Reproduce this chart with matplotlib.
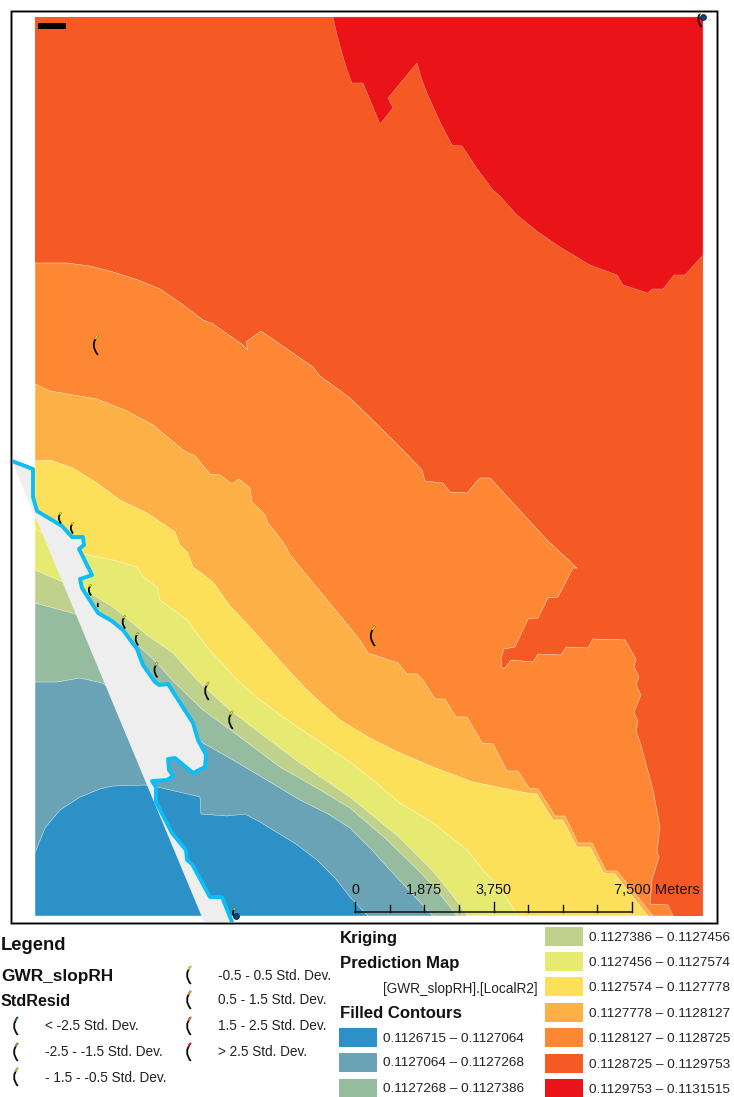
import matplotlib
matplotlib.use('Agg')
import matplotlib.pyplot as plt
from matplotlib.patches import Polygon, Rectangle, PathPatch
from matplotlib.path import Path

plt.rcParams['font.family'] = ['Liberation Sans', 'DejaVu Sans']

# contour classes, low to high
class_labels = ['0.1126715 – 0.1127064', '0.1127064 – 0.1127268', '0.1127268 – 0.1127386',
                '0.1127386 – 0.1127456', '0.1127456 – 0.1127574', '0.1127574 – 0.1127778',
                '0.1127778 – 0.1128127', '0.1128127 – 0.1128725', '0.1128725 – 0.1129753',
                '0.1129753 – 0.1131515']
class_colors = ['#2B91C6', '#69A3B5', '#96BC9F', '#C0D18B', '#E6EA70',
                '#FDE05A', '#FDB045', '#FD8733', '#F55A24', '#E91318']

# map extent (picture pixels are the map units here)
map_left, map_top, map_right, map_bottom = 35, 17, 703, 916

# upper limit line of each class, left edge to bottom edge of the map
blue_top = [(35, 853), (45, 828), (60, 810), (80, 797), (100, 789), (113, 786), (145, 785), (158, 787),
            (200, 797), (201, 814), (227, 816), (245, 814), (260, 822), (273, 830), (296, 844), (317, 860),
            (335, 878), (350, 897), (368, 916)]
teal_top = [(35, 682), (57, 682), (80, 678), (102, 683), (130, 700), (190, 735), (203, 743), (233, 760),
            (265, 779), (300, 800), (328, 814), (350, 828), (372, 850), (390, 870), (415, 897), (433, 916)]
sage_top = [(35, 603), (72, 613), (100, 622), (140, 647), (157, 663), (172, 680), (203, 710), (240, 737),
            (280, 767), (315, 787), (350, 808), (385, 838), (418, 870), (437, 890), (457, 916)]
olive_top = [(35, 570), (58, 580), (90, 593), (113, 607), (147, 635), (173, 653), (197, 680), (230, 710),
             (260, 733), (300, 763), (350, 797), (400, 838), (432, 870), (450, 892), (468, 916)]
yellowgreen_top = [(35, 528), (60, 545), (83, 554), (113, 560), (137, 567), (143, 577), (157, 587),
                   (160, 600), (187, 620), (207, 647), (237, 680), (260, 700), (283, 717), (317, 740),
                   (350, 762), (375, 782), (400, 803), (433, 823), (467, 850), (483, 870), (500, 888),
                   (518, 916)]
yellow_top = [(35, 461), (50, 460), (73, 468), (97, 483), (120, 500), (147, 513), (175, 532), (180, 545),
              (188, 553), (193, 567), (213, 582), (230, 606), (250, 627), (282, 663), (307, 690),
              (340, 720), (370, 738), (400, 753), (433, 767), (473, 782), (527, 793), (537, 794),
              (553, 820), (563, 820), (577, 847), (590, 847), (604, 873), (615, 874), (648, 916)]
lightorange_top = [(35, 384), (50, 391), (97, 399), (125, 410), (153, 425), (183, 450), (195, 456), (210, 474),
                   (220, 475), (232, 484), (239, 479), (250, 488), (252, 502), (265, 515), (268, 523),
                   (285, 545), (290, 555), (337, 612), (360, 640), (368, 653), (398, 663), (407, 674),
                   (417, 674), (423, 680), (435, 699), (445, 699), (456, 717), (467, 717), (482, 743),
                   (493, 744), (507, 771), (518, 771), (529, 788), (538, 789), (555, 816), (565, 816),
                   (578, 843), (592, 843), (606, 871), (617, 871), (653, 916)]
orange_top = [(35, 263), (67, 263), (90, 266), (113, 272), (138, 280), (160, 289), (182, 304), (203, 320),
              (213, 324), (243, 345), (248, 350), (246, 342), (261, 331), (313, 367), (320, 376), (350, 398),
              (393, 440), (422, 470), (425, 481), (443, 483), (450, 492), (467, 493), (480, 478), (490, 478),
              (547, 540), (577, 568), (573, 568), (558, 597), (548, 598), (538, 618), (528, 619), (515, 647),
              (504, 649), (501, 658), (502, 668), (505, 668), (511, 660), (533, 662), (538, 654),
              (561, 655), (566, 647), (588, 648), (593, 639), (625, 640), (636, 659), (634, 667),
              (639, 677), (636, 685), (641, 695), (634, 712), (638, 722), (636, 731), (640, 742),
              (653, 790), (660, 827), (657, 852), (659, 857), (652, 880), (650, 904), (668, 905),
              (673, 916)]
red_edge = [(333, 17), (337, 35), (342, 53), (347, 70), (352, 83), (363, 83), (380, 124), (393, 108),
            (388, 98), (417, 63), (422, 80), (427, 93), (440, 122), (452, 145), (462, 146), (478, 170),
            (493, 190), (500, 196), (517, 215), (538, 232), (560, 247), (590, 265), (617, 275),
            (623, 285), (648, 293), (652, 289), (663, 289), (674, 275), (685, 275), (703, 255), (703, 17)]

# coast line and the grey strip behind it
coast_line = [(12, 461), (33, 469), (33, 497), (37, 511), (62, 526), (72, 537), (83, 537), (84, 545),
              (79, 549), (92, 575), (80, 579), (82, 588), (98, 613), (112, 621), (123, 630), (137, 649),
              (143, 665), (155, 682), (159, 685), (168, 684), (193, 723), (198, 740), (206, 755),
              (205, 767), (193, 773), (175, 758), (168, 759), (169, 770), (173, 776), (167, 780),
              (152, 781), (156, 787), (156, 802), (172, 833), (186, 850), (187, 860), (192, 864),
              (210, 897), (222, 897), (232, 922)]
strip_edge = [(204, 922), (12, 461)]

# GWR_slopRH residual points: x, y, StdResid class, symbol height
point_x = [96, 60, 72, 90, 98, 124, 137, 156, 207, 231, 373, 234, 700]
point_y = [345, 518, 528, 590, 605, 622, 639, 670, 691, 720, 636, 913, 19]
point_class = [3, 3, 3, 3, 6, 3, 3, 3, 3, 3, 3, 2, 3]
point_h = [20, 11, 11, 11, 4, 13, 13, 15, 18, 18, 20, 10, 16]
dot_x = [703, 236]
dot_y = [17, 916]

resid_labels = ['< -2.5 Std. Dev.', '-2.5 - -1.5 Std. Dev.', '- 1.5 - -0.5 Std. Dev.',
                '-0.5 - 0.5 Std. Dev.', '0.5 - 1.5 Std. Dev.', '1.5 - 2.5 Std. Dev.', '> 2.5 Std. Dev.']
resid_colors = ['#1E7A35', '#6FB02E', '#B5D334', '#F2E52C', '#F7A51E', '#F0701E', '#E2231A']

scale_values = [0, 1875, 3750, 7500]


def crescent(ax, x, y, h, col):
    # the arc symbol used for the points, black with a coloured tip
    top = (x + 0.1 * h, y - h / 2)
    mid = (x - 0.32 * h, y)
    bot = (x + 0.1 * h, y + h / 2)
    arc = Path([top, mid, bot], [Path.MOVETO, Path.CURVE3, Path.CURVE3])
    ax.add_patch(PathPatch(arc, fc='none', ec='#0A0A0A', lw=1.3, zorder=6))
    # first bit of the same curve in the class colour
    tip = []
    for t in [0, 0.07, 0.14, 0.2]:
        tip.append(((1 - t) ** 2 * top[0] + 2 * t * (1 - t) * mid[0] + t ** 2 * bot[0],
                    (1 - t) ** 2 * top[1] + 2 * t * (1 - t) * mid[1] + t ** 2 * bot[1]))
    ax.plot(*zip(*tip), color=col, lw=1.1, zorder=7, solid_capstyle='butt')


fig = plt.figure(figsize=(7.34, 10.97), dpi=100)
ax = fig.add_axes([0, 0, 1, 1])
ax.set_xlim(0, 734)
ax.set_ylim(1097, 0)
ax.axis('off')

# contours, painted from the outside in
corner = [(map_left, map_bottom)]
ax.add_patch(Rectangle((map_left, map_top), map_right - map_left, map_bottom - map_top,
                       fc=class_colors[8], ec='none', zorder=1))
layers = [(orange_top, 7), (lightorange_top, 6), (yellow_top, 5), (yellowgreen_top, 4),
          (olive_top, 3), (sage_top, 2), (teal_top, 1), (blue_top, 0)]
ax.add_patch(Polygon(red_edge, closed=True, fc=class_colors[9], ec='#F6A0A0', lw=0.3, zorder=2))
for n, (edge, cls) in enumerate(layers):
    ax.add_patch(Polygon(edge + corner, closed=True, fc=class_colors[cls], ec='#FFFFFF', lw=0.3,
                         zorder=2 + n * 0.01))

ax.add_patch(Polygon(coast_line + strip_edge, closed=True, fc='#EEEEEE', ec='none', zorder=3))
frame_clip = Rectangle((11, 11), 706, 912, transform=ax.transData)
cx, cy = zip(*coast_line)
ax.plot(cx, cy, color='#0CBDF7', lw=2.8, solid_joinstyle='round', zorder=5, clip_path=frame_clip)

# points
for x, y, c, h in zip(point_x, point_y, point_class, point_h):
    crescent(ax, x, y, h, resid_colors[c])
ax.scatter(dot_x, dot_y, s=18, color='#123C8C', edgecolors='#111111', linewidths=0.5, zorder=8)

# north arrow stub and frame
ax.add_patch(Rectangle((38, 23), 28, 6, fc='black', ec='none', zorder=6))
ax.add_patch(Rectangle((11, 11), 706, 912, fc='none', ec='#AAAAAA', lw=2.1, zorder=9))
ax.add_patch(Rectangle((11, 11), 706, 912, fc='none', ec='black', lw=1.0, zorder=10))

# scale bar
x0, x1 = 355, 632
bar_y = 912
ax.plot([x0, x1], [bar_y, bar_y], color='#111111', lw=1.1, zorder=6, solid_capstyle='projecting')
for i in range(9):
    x = x0 + (x1 - x0) * i / 8
    top = 902 if i % 4 == 0 else 905
    ax.plot([x, x], [top, bar_y], color='#111111', lw=1.0, zorder=6)
txt = dict(ha='center', va='center', fontsize=10.4, color='#111111', zorder=7)
ax.text(x0, 890.5, f'{scale_values[0]:,}', **txt)
ax.text(x0 + (x1 - x0) / 4, 890.5, f'{scale_values[1]:,}', **txt)
ax.text(x0 + (x1 - x0) / 2, 890.5, f'{scale_values[2]:,}', **txt)
ax.text(614, 890.5, f'{scale_values[3]:,} Meters', ha='left', va='center', fontsize=10.5,
        color='#111111', zorder=7)

# left legend
ax.text(1, 945.5, 'Legend', fontsize=13.2, fontweight='bold', va='center', color='#111111')
ax.text(1, 976, 'GWR_slopRH', fontsize=12.4, fontweight='bold', va='center', color='#111111')
ax.text(1, 1001, 'StdResid', fontsize=11.6, fontweight='bold', va='center', color='#111111')
resid_sym_x = [16, 16, 16, 189, 189, 189, 189]
resid_sym_y = [1026, 1052, 1077, 975, 1000, 1026, 1052]
resid_txt_x = [45, 45, 45, 218, 218, 218, 218]
for i, lab in enumerate(resid_labels):
    crescent(ax, resid_sym_x[i], resid_sym_y[i], 18, resid_colors[i])
    ax.text(resid_txt_x[i], resid_sym_y[i] + 0.5, lab, fontsize=9.8, va='center', color='#222222')

# right legend
ax.text(340, 938.5, 'Kriging', fontsize=12.1, fontweight='bold', va='center', color='#111111')
ax.text(340, 963.5, 'Prediction Map', fontsize=12.1, fontweight='bold', va='center', color='#111111')
ax.text(383, 989, '[GWR_slopRH].[LocalR2]', fontsize=9.8, va='center', color='#222222')
ax.text(340, 1013.5, 'Filled Contours', fontsize=12.1, fontweight='bold', va='center', color='#111111')
rows_left = [1028, 1053, 1079]
rows_right = [927, 952, 977, 1003, 1028, 1054, 1079]
for i in range(3):
    ax.add_patch(Rectangle((339, rows_left[i]), 38, 18.5, fc=class_colors[i], ec='none'))
    ax.text(383, rows_left[i] + 10.5, class_labels[i], fontsize=9.7, va='center', color='#222222')
for i in range(7):
    ax.add_patch(Rectangle((545, rows_right[i]), 38, 18.5, fc=class_colors[i + 3], ec='none'))
    ax.text(589, rows_right[i] + 11, class_labels[i + 3], fontsize=9.7, va='center', color='#222222')

fig.savefig('out.png', dpi=100)
